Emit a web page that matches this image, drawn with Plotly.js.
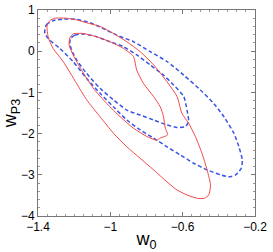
<!DOCTYPE html>
<html><head><meta charset="utf-8">
<script src="https://cdn.plot.ly/plotly-3.0.1.min.js"></script>
<style>html,body{margin:0;padding:0;background:#fff}#c{width:273px;height:252px}</style>
</head><body><div id="c"></div>
<script>
var redOuterX = [-1.307,-1.243,-1.187,-1.131,-1.057,-0.983,-0.909,-0.835,-0.761,-0.687,-0.631,-0.604,-0.567,-0.530,-0.493,-0.465,-0.446,-0.456,-0.480,-0.520,-0.576,-0.631,-0.687,-0.761,-0.835,-0.909,-0.983,-1.057,-1.131,-1.187,-1.261,-1.317,-1.344,-1.350,-1.335,-1.307];
var redOuterY = [0.80,0.80,0.76,0.69,0.60,0.43,0.23,-0.01,-0.33,-0.74,-1.10,-1.51,-1.75,-2.07,-2.48,-2.88,-3.25,-3.49,-3.57,-3.57,-3.49,-3.37,-3.17,-2.88,-2.60,-2.32,-1.99,-1.59,-1.18,-0.78,-0.25,0.07,0.35,0.60,0.74,0.80];
var redInnerX = [-1.206,-1.150,-1.076,-1.002,-0.928,-0.872,-0.854,-0.817,-0.761,-0.724,-0.706,-0.696,-0.683,-0.724,-0.743,-0.798,-0.872,-0.946,-1.020,-1.094,-1.159,-1.206,-1.228,-1.224,-1.206];
var redInnerY = [0.42,0.43,0.35,0.23,0.07,-0.13,-0.46,-0.78,-1.10,-1.35,-1.59,-1.87,-2.03,-2.11,-2.16,-2.07,-1.87,-1.59,-1.27,-0.90,-0.46,-0.09,0.15,0.32,0.42];
var blueOuterX = [-1.363,-1.354,-1.317,-1.261,-1.187,-1.113,-1.039,-0.965,-0.872,-0.780,-0.687,-0.594,-0.502,-0.428,-0.372,-0.317,-0.289,-0.270,-0.276,-0.307,-0.344,-0.391,-0.465,-0.539,-0.613,-0.687,-0.761,-0.835,-0.909,-0.983,-1.057,-1.131,-1.206,-1.280,-1.335,-1.357,-1.363];
var blueOuterY = [0.47,0.64,0.74,0.78,0.77,0.69,0.55,0.39,0.23,-0.01,-0.25,-0.58,-0.94,-1.27,-1.59,-1.99,-2.32,-2.64,-2.84,-3.00,-3.05,-3.00,-2.88,-2.72,-2.52,-2.32,-2.11,-1.91,-1.67,-1.35,-1.02,-0.66,-0.25,0.07,0.27,0.39,0.47];
var blueInnerX = [-1.220,-1.196,-1.150,-1.076,-1.002,-0.928,-0.854,-0.780,-0.706,-0.650,-0.594,-0.576,-0.567,-0.585,-0.631,-0.687,-0.761,-0.835,-0.909,-0.983,-1.057,-1.131,-1.187,-1.215,-1.224,-1.220];
var blueInnerY = [0.31,0.39,0.42,0.35,0.23,0.11,-0.09,-0.33,-0.58,-0.82,-1.10,-1.43,-1.71,-1.83,-1.85,-1.79,-1.67,-1.55,-1.43,-1.18,-0.90,-0.54,-0.21,0.04,0.20,0.31];
var xTicks = [-1.4,-1,-0.6,-0.2];
var xTickText = ['\u22121.4','\u22121','\u22120.6','\u22120.2'];
var yTicks = [-4,-3,-2,-1,0,1];
var yTickText = ['\u22124','\u22123','\u22122','\u22121','0','1'];

var red = '#f24a4a', blue = '#3a55e6';
function tr(x,y,c,dash,w){return {x:x,y:y,mode:'lines',type:'scatter',line:{color:c,width:w,dash:dash,shape:'spline',smoothing:0.6},hoverinfo:'skip',showlegend:false};}
var data = [
  tr(blueOuterX,blueOuterY,blue,'4px,2.5px',1.5),
  tr(blueInnerX,blueInnerY,blue,'4px,2.5px',1.5),
  tr(redOuterX,redOuterY,red,'solid',1),
  tr(redInnerX,redInnerY,red,'solid',1)
];
var fam = 'Liberation Sans, Arial, sans-serif';
var axCommon = {showgrid:false,zeroline:false,showline:true,linecolor:'#777',linewidth:1,mirror:'allticks',ticks:'inside',ticklen:4,tickcolor:'#777',tickfont:{family:fam,size:12,color:'#000'}};
var layout = {
  width:273,height:252,
  margin:{l:38,r:18,t:10,b:36},
  paper_bgcolor:'#fff',plot_bgcolor:'#fff',
  xaxis:Object.assign({},axCommon,{range:[-1.4,-0.2],tickmode:'array',tickvals:xTicks,ticktext:xTickText,
    minor:{dtick:0.05,tick0:-1.4,ticks:'inside',ticklen:2,tickcolor:'#999',showgrid:false},
    title:{text:'w<sub>0</sub>',font:{family:fam,size:18,color:'#000'},standoff:2}}),
  yaxis:Object.assign({},axCommon,{range:[-4,1],tickmode:'array',tickvals:yTicks,ticktext:yTickText,
    minor:{dtick:0.2,tick0:-4,ticks:'inside',ticklen:2,tickcolor:'#999',showgrid:false},
    title:{text:'w<sub>P3</sub>',font:{family:fam,size:18,color:'#000'},standoff:2}})
};
Plotly.newPlot('c',data,layout,{staticPlot:true,displayModeBar:false});
</script></body></html>
